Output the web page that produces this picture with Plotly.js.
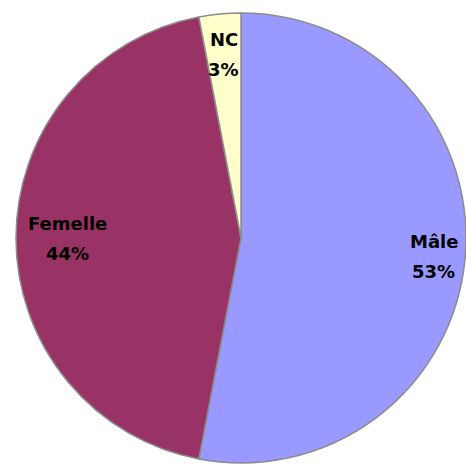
<!DOCTYPE html>
<html>
<head>
<meta charset="utf-8">
<script src="https://cdn.plot.ly/plotly-3.0.1.min.js"></script>
<style>html,body{margin:0;padding:0;background:#fff;}#chart{width:466px;height:464px;}</style>
</head>
<body>
<div id="chart"></div>
<script>
const categories = ["Mâle", "Femelle", "NC"];
const percentValues = [53, 44, 3];
const percentLabels = ["53%", "44%", "3%"];
const sliceColors = ["#9999FF", "#993366", "#FFFFCC"];
const labelRadiusFactor = [0.86, 0.77, 0.82];

const W = 466, H = 464;
const cx = 241, cy = 238, R = 225;

const trace = {
  type: "pie",
  labels: categories,
  values: percentValues,
  sort: false,
  direction: "clockwise",
  rotation: 0,
  textinfo: "none",
  hoverinfo: "label+percent",
  marker: { colors: sliceColors, line: { color: "#8c8c8c", width: 1.5 } },
  domain: { x: [(cx - R) / W, (cx + R) / W], y: [(H - cy - R) / H, (H - cy + R) / H] },
  showlegend: false
};

const total = percentValues.reduce((a, b) => a + b, 0);
const annotations = [];
let cum = 0;
percentValues.forEach((v, i) => {
  const mid = (cum + v / 2) / total * 2 * Math.PI;
  cum += v;
  const r = R * labelRadiusFactor[i];
  const px = cx + r * Math.sin(mid);
  const py = cy - r * Math.cos(mid);
  const base = { xref: "paper", yref: "paper", x: px / W, y: 1 - py / H, showarrow: false,
    xanchor: "center", yanchor: "middle",
    font: { family: "DejaVu Sans", size: 18, color: "#000", weight: "bold" } };
  annotations.push(Object.assign({}, base, { text: "<b>" + categories[i] + "</b>", yshift: 15 }));
  annotations.push(Object.assign({}, base, { text: "<b>" + percentLabels[i] + "</b>", yshift: -15 }));
});

const layout = {
  width: W, height: H,
  margin: { l: 0, r: 0, t: 0, b: 0 },
  paper_bgcolor: "#fff",
  annotations: annotations
};

Plotly.newPlot("chart", [trace], layout, { displayModeBar: false, staticPlot: true });
</script>
</body>
</html>
